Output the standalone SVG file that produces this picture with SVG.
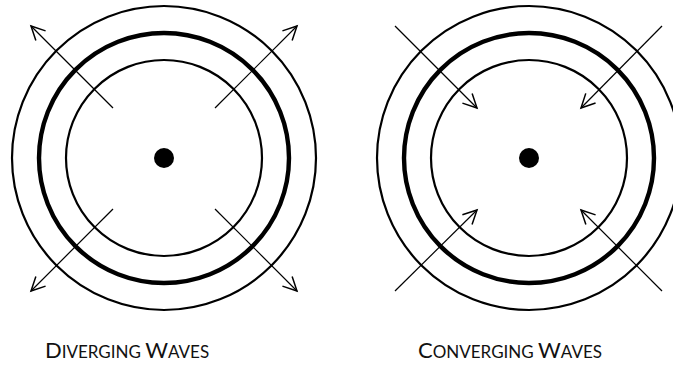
<svg xmlns="http://www.w3.org/2000/svg" width="673" height="371" viewBox="0 0 673 371">
<defs>
<style>
.ring{fill:none;stroke:#000;stroke-width:2.2}
.thick{fill:none;stroke:#000;stroke-width:4.4}
.dot{fill:#000}
.arr{stroke:#000;stroke-width:1.2;fill:none;marker-end:url(#ah)}
.lbl{font-family:Lato,"Open Sans",sans-serif;font-size:22px;fill:#111;text-anchor:middle}
.sc{font-size:17px}
</style>
<marker id="ah" markerUnits="userSpaceOnUse" markerWidth="20" markerHeight="20" refX="0" refY="0" viewBox="-12 -8 14 16" orient="auto" overflow="visible">
<path d="M-11,-5.5 L0,0 L-11,5.5" fill="none" stroke="#000" stroke-width="1.2"/>
</marker>
</defs>
<rect width="673" height="371" fill="#fff"/>
<g id="diverging">
<circle class="ring" cx="164" cy="158" r="152"/>
<circle class="thick" cx="164" cy="158" r="125"/>
<circle class="ring" cx="164" cy="158" r="98"/>
<circle class="dot" cx="164" cy="158" r="10"/>
</g>
<g id="converging">
<circle class="ring" cx="529" cy="158" r="152"/>
<circle class="thick" cx="529" cy="158" r="125"/>
<circle class="ring" cx="529" cy="158" r="98"/>
<circle class="dot" cx="529" cy="158" r="10"/>
</g>
<g id="connectors">
<line class="arr" x1="113" y1="108" x2="31" y2="26"/>
<line class="arr" x1="215" y1="108" x2="297" y2="26"/>
<line class="arr" x1="113" y1="209" x2="31" y2="291"/>
<line class="arr" x1="215" y1="209" x2="297" y2="291"/>
<line class="arr" x1="395" y1="26" x2="477" y2="108"/>
<line class="arr" x1="662" y1="26" x2="581" y2="108"/>
<line class="arr" x1="395" y1="291" x2="477" y2="210"/>
<line class="arr" x1="662" y1="291" x2="581" y2="210"/>
</g>
<g id="labels">
<text class="lbl" x="127" y="358">D<tspan class="sc">IVERGING </tspan>W<tspan class="sc">AVES</tspan></text>
<text class="lbl" x="510" y="358">C<tspan class="sc">ONVERGING </tspan>W<tspan class="sc">AVES</tspan></text>
</g>
</svg>
